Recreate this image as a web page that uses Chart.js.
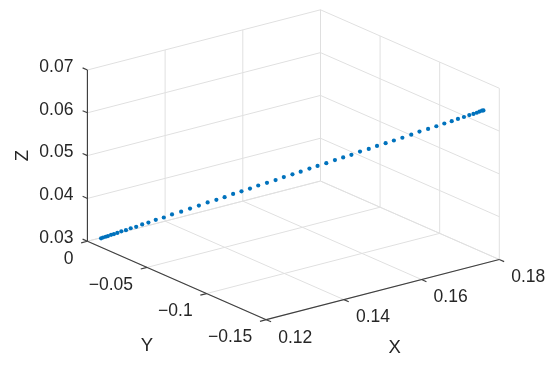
<!DOCTYPE html>
<html>
<head>
<meta charset="utf-8">
<script src="https://cdn.jsdelivr.net/npm/chart.js@4/dist/chart.umd.min.js"></script>
<style>
  html, body { margin: 0; padding: 0; background: #fff; }
  canvas { display: block; }
</style>
</head>
<body>
<canvas id="plot3d" width="550" height="373"></canvas>
<script>
// axis limits and ticks
let xLim = [0.12, 0.18];
let yLim = [-0.15, 0];
let zLim = [0.03, 0.07];
let xTicks = [0.12, 0.14, 0.16, 0.18];
let yTicks = [0, -0.05, -0.1, -0.15];
let zTicks = [0.03, 0.04, 0.05, 0.06, 0.07];
let xTickLabels = ["0.12", "0.14", "0.16", "0.18"];
let yTickLabels = ["0", "\u22120.05", "\u22120.1", "\u22120.15"];
let zTickLabels = ["0.03", "0.04", "0.05", "0.06", "0.07"];

// trajectory points (X, Y, Z)
let px = [0.1233, 0.1236, 0.1240, 0.1243, 0.1248, 0.1252, 0.1257, 0.1263, 0.1270, 0.1277,
  0.1285, 0.1294, 0.1303, 0.1314, 0.1326, 0.1338, 0.1352, 0.1365, 0.1378, 0.1391,
  0.1404, 0.1416, 0.1429, 0.1441, 0.1454, 0.1466, 0.1479, 0.1492, 0.1504, 0.1517,
  0.1529, 0.1542, 0.1554, 0.1567, 0.1580, 0.1592, 0.1604, 0.1617, 0.1630, 0.1642,
  0.1655, 0.1667, 0.1680, 0.1693, 0.1705, 0.1718, 0.1730, 0.1742, 0.1753, 0.1762,
  0.1771, 0.1779, 0.1785, 0.1790, 0.1794, 0.1798, 0.1800];
let py = [-0.0007, -0.0014, -0.0023, -0.0032, -0.0042, -0.0053, -0.0065, -0.0079, -0.0095, -0.0112,
  -0.0132, -0.0153, -0.0176, -0.0202, -0.0230, -0.0260, -0.0291, -0.0323, -0.0355, -0.0386,
  -0.0417, -0.0447, -0.0476, -0.0507, -0.0536, -0.0566, -0.0597, -0.0627, -0.0657, -0.0687,
  -0.0717, -0.0748, -0.0777, -0.0808, -0.0838, -0.0868, -0.0898, -0.0928, -0.0959, -0.0989,
  -0.1019, -0.1049, -0.1078, -0.1110, -0.1140, -0.1170, -0.1200, -0.1228, -0.1254, -0.1277,
  -0.1298, -0.1317, -0.1332, -0.1344, -0.1353, -0.1361, -0.1367];
let pz = [0.0300, 0.0302, 0.0304, 0.0306, 0.0309, 0.0311, 0.0314, 0.0318, 0.0321, 0.0326,
  0.0330, 0.0336, 0.0341, 0.0348, 0.0354, 0.0362, 0.0369, 0.0377, 0.0385, 0.0393,
  0.0400, 0.0407, 0.0415, 0.0422, 0.0429, 0.0437, 0.0444, 0.0451, 0.0459, 0.0466,
  0.0473, 0.0481, 0.0488, 0.0495, 0.0503, 0.0510, 0.0517, 0.0525, 0.0532, 0.0540,
  0.0547, 0.0554, 0.0561, 0.0569, 0.0577, 0.0584, 0.0591, 0.0598, 0.0604, 0.0610,
  0.0615, 0.0620, 0.0623, 0.0626, 0.0629, 0.0631, 0.0632];

// view like MATLAB view(-37.5, 30), stretched to fill
let az = 37.5 * Math.PI / 180;
let el = 30 * Math.PI / 180;
let view = { cx: 293.5, cy: 164.5, kx: 296, ky: 200 };

function project(x, y, z) {
  let a = (x - xLim[0]) / (xLim[1] - xLim[0]) - 0.5;
  let b = (y - yLim[0]) / (yLim[1] - yLim[0]) - 0.5;
  let c = (z - zLim[0]) / (zLim[1] - zLim[0]) - 0.5;
  return {
    x: view.cx + view.kx * (a * Math.cos(az) - b * Math.sin(az)),
    y: view.cy - view.ky * (Math.sin(el) * (a * Math.sin(az) + b * Math.cos(az)) + Math.cos(el) * c)
  };
}

let points = px.map((v, i) => project(v, py[i], pz[i]));

let gridColor = "#e0e0e0";
let axisColor = "#404040";
let textColor = "#262626";
let tickFont = "17.5px 'Liberation Sans', Arial, sans-serif";
let labelFont = "18.5px 'Liberation Sans', Arial, sans-serif";

let axes3d = {
  id: "axes3d",
  beforeDatasetsDraw(chart) {
    let ctx = chart.ctx;
    let sx = chart.scales.x, sy = chart.scales.y;
    let toPx = (x, y, z) => {
      let p = project(x, y, z);
      return [sx.getPixelForValue(p.x), sy.getPixelForValue(p.y)];
    };
    let seg = (p, q, color) => {
      ctx.strokeStyle = color;
      ctx.beginPath();
      ctx.moveTo(p[0], p[1]);
      ctx.lineTo(q[0], q[1]);
      ctx.stroke();
    };
    ctx.save();
    ctx.lineWidth = 1;

    // grid on the floor and the two back walls
    xTicks.forEach(x => {
      seg(toPx(x, yLim[0], zLim[0]), toPx(x, yLim[1], zLim[0]), gridColor);
      seg(toPx(x, yLim[1], zLim[0]), toPx(x, yLim[1], zLim[1]), gridColor);
    });
    yTicks.forEach(y => {
      seg(toPx(xLim[0], y, zLim[0]), toPx(xLim[1], y, zLim[0]), gridColor);
      seg(toPx(xLim[1], y, zLim[0]), toPx(xLim[1], y, zLim[1]), gridColor);
    });
    zTicks.forEach(z => {
      seg(toPx(xLim[0], yLim[1], z), toPx(xLim[1], yLim[1], z), gridColor);
      seg(toPx(xLim[1], yLim[0], z), toPx(xLim[1], yLim[1], z), gridColor);
    });

    // axis lines
    ctx.lineWidth = 1.2;
    seg(toPx(xLim[0], yLim[0], zLim[0]), toPx(xLim[1], yLim[0], zLim[0]), axisColor);
    seg(toPx(xLim[0], yLim[0], zLim[0]), toPx(xLim[0], yLim[1], zLim[0]), axisColor);
    seg(toPx(xLim[0], yLim[1], zLim[0]), toPx(xLim[0], yLim[1], zLim[1]), axisColor);

    let tl = 0.027;
    let dx = xLim[1] - xLim[0], dy = yLim[1] - yLim[0];
    ctx.fillStyle = textColor;
    ctx.font = tickFont;

    // X ticks and labels
    ctx.textAlign = "center";
    ctx.textBaseline = "middle";
    xTicks.forEach((x, i) => {
      let p = toPx(x, yLim[0], zLim[0]);
      seg(p, toPx(x, yLim[0] - tl * dy, zLim[0]), axisColor);
      ctx.fillText(xTickLabels[i], p[0] + 29, p[1] + 18);
    });

    // Y ticks and labels
    ctx.textAlign = "right";
    yTicks.forEach((y, i) => {
      let p = toPx(xLim[0], y, zLim[0]);
      seg(p, toPx(xLim[0] - tl * dx, y, zLim[0]), axisColor);
      ctx.fillText(yTickLabels[i], p[0] - 14, p[1] + 17.5);
    });

    // Z ticks and labels
    zTicks.forEach((z, i) => {
      let p = toPx(xLim[0], yLim[1], z);
      seg(p, toPx(xLim[0], yLim[1] + tl * dy, z), axisColor);
      ctx.fillText(zTickLabels[i], p[0] - 14, p[1] - 3);
    });

    // axis titles
    ctx.font = labelFont;
    ctx.textAlign = "center";
    let xm = toPx((xLim[0] + xLim[1]) / 2, yLim[0], zLim[0]);
    ctx.fillText("X", xm[0] + 12, xm[1] + 58);
    let ym = toPx(xLim[0], (yLim[0] + yLim[1]) / 2, zLim[0]);
    ctx.fillText("Y", ym[0] - 30, ym[1] + 65);
    let zm = toPx(xLim[0], yLim[1], (zLim[0] + zLim[1]) / 2);
    ctx.save();
    ctx.translate(zm[0] - 65, zm[1]);
    ctx.rotate(-Math.PI / 2);
    ctx.fillText("Z", 0, 0);
    ctx.restore();

    ctx.restore();
  }
};

window.onload = function() {
  let ctx = document.getElementById("plot3d").getContext("2d");
  window.myPlot = new Chart(ctx, {
    type: "scatter",
    data: {
      datasets: [{
        data: points,
        backgroundColor: "#0072BD",
        borderWidth: 0,
        pointRadius: 2.1,
        pointHoverRadius: 2.1
      }]
    },
    options: {
      responsive: false,
      animation: false,
      events: [],
      layout: { padding: 0 },
      plugins: {
        legend: { display: false },
        tooltip: { enabled: false }
      },
      scales: {
        x: { type: "linear", display: false, min: 0, max: 550 },
        y: { type: "linear", display: false, min: 0, max: 373, reverse: true }
      }
    },
    plugins: [axes3d]
  });
};
</script>
</body>
</html>
